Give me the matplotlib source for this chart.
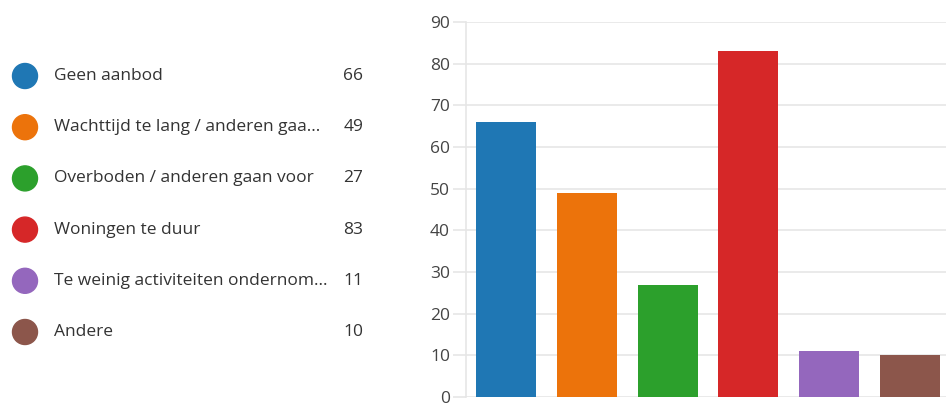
import numpy as np
import matplotlib.pyplot as plt
from matplotlib.patches import Ellipse

plt.rcParams['font.family'] = ['Open Sans', 'DejaVu Sans']

labels = ["Geen aanbod", "Wachttijd te lang / anderen gaa...", "Overboden / anderen gaan voor",
          "Woningen te duur", "Te weinig activiteiten ondernom...", "Andere"]
counts = [66, 49, 27, 83, 11, 10]
colors = ["#1f77b4", "#ec730b", "#2ca02c", "#d62728", "#9467bd", "#8c564b"]
yticks = [0, 10, 20, 30, 40, 50, 60, 70, 80, 90]

W, H = 946, 404
fig = plt.figure(figsize=(W / 100, H / 100), dpi=100)

# bar chart on the right
ax = fig.add_axes([466 / W, 1 - 397 / H, 484 / W, 375 / H])
x = np.arange(len(counts))
ax.bar(x, counts, width=0.74, color=colors, zorder=3)
ax.set_xlim(-0.5, 5.5)
ax.set_ylim(0, 90)
ax.set_yticks(yticks)
ax.set_xticks([])
ax.grid(axis="y", color="#e6e6e6", linewidth=1.2, zorder=0)
for s in ["top", "right", "bottom"]:
    ax.spines[s].set_visible(False)
ax.spines["left"].set_color("#e6e6e6")
ax.spines["left"].set_linewidth(1.2)
ax.tick_params(axis="y", length=9.5, width=1.2, color="#e6e6e6", pad=2,
               labelsize=12.5, labelcolor="#444444")

# legend on the left
for i, (lab, c, v) in enumerate(zip(labels, colors, counts)):
    yc = 1 - (76 + i * 51.2) / H
    fig.add_artist(Ellipse((25 / W, yc), 25 / W, 25 / H, color=c,
                           transform=fig.transFigure))
    fig.text(54 / W, yc, lab, fontsize=12.5, color="#333333", va="center", ha="left")
    fig.text(363 / W, yc, str(v), fontsize=12.5, color="#333333", va="center", ha="right")

fig.savefig("out.png", dpi=100)
